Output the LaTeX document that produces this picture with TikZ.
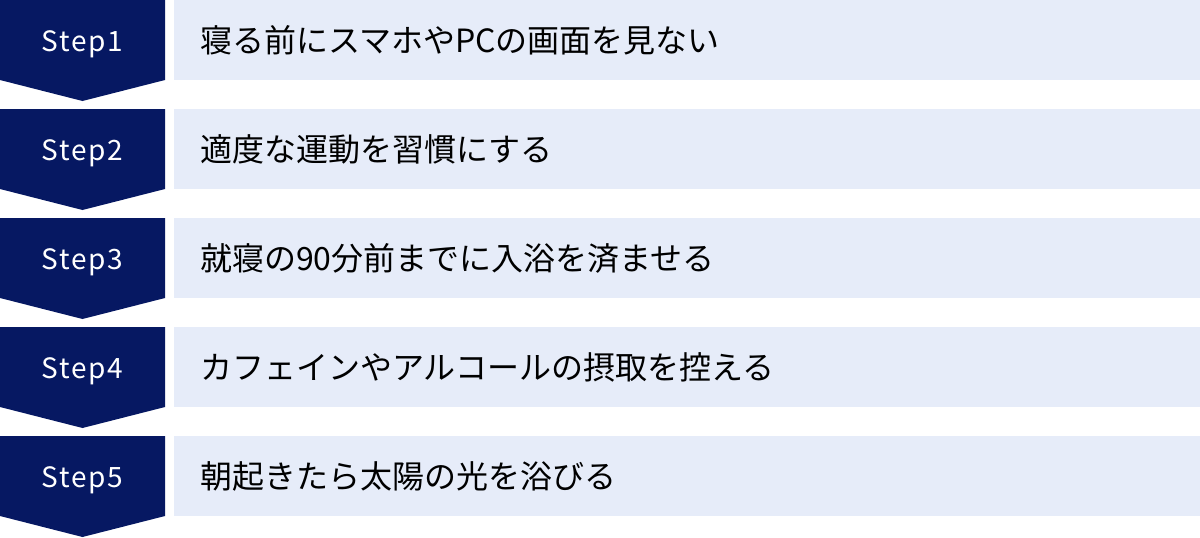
\documentclass[tikz,border=0pt]{standalone}
\usepackage{fontspec}
\newfontfamily\jpfont{Noto Sans CJK JP}
\newfontfamily\stepfont[LetterSpace=6]{Noto Sans CJK JP}
\definecolor{stepnavy}{RGB}{6,24,98}
\definecolor{steplight}{RGB}{230,236,249}

\begin{document}
\begin{tikzpicture}[x=1pt,y=-1pt]
    \newcommand{\rowpitch}{109}
    \newcommand{\rowheight}{80}
    \newcommand{\tipdepth}{101}

    \useasboundingbox (0,0) rectangle (1200,538);

    % Draw steps
    \foreach \i/\txt in {1/寝る前にスマホやPCの画面を見ない,
                         2/適度な運動を習慣にする,
                         3/就寝の90分前までに入浴を済ませる,
                         4/カフェインやアルコールの摂取を控える,
                         5/朝起きたら太陽の光を浴びる} {
        \pgfmathsetmacro{\rowtop}{(\i-1)*\rowpitch}
        \fill[stepnavy] (0,\rowtop) -- (165,\rowtop) -- (165,\rowtop+\rowheight)
            -- (82.5,\rowtop+\tipdepth) -- (0,\rowtop+\rowheight) -- cycle;
        \fill[steplight] (174,\rowtop) rectangle (1200,\rowtop+\rowheight);
        \node[anchor=base, inner sep=0, text=white,
              font=\stepfont\fontsize{28}{28}\selectfont] (step\i) at (82.5,\rowtop+51.5) {Step\i};
        \node[anchor=base west, inner sep=0, text=black,
              font=\jpfont\fontsize{32}{32}\selectfont] (text\i) at (200,\rowtop+52.5) {\txt};
    }
\end{tikzpicture}
\end{document}
